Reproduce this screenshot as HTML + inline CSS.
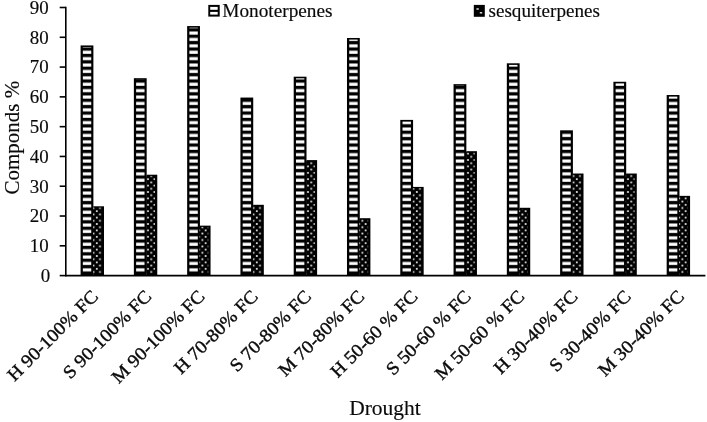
<!DOCTYPE html>
<html><head><meta charset="utf-8"><title>Chart</title>
<style>
html,body{margin:0;padding:0;background:#fff;}
body{width:707px;height:422px;overflow:hidden;}
svg{display:block;}
text{font-family:"Liberation Serif","Times New Roman",serif;fill:#0a0a0a;stroke:#0a0a0a;stroke-width:0.15px;}
text.xl{stroke-width:0.38px;}
</style></head><body>
<svg width="707" height="422" viewBox="0 0 707 422">
<defs>
<pattern id="hs" patternUnits="userSpaceOnUse" x="0" y="0" width="6.4" height="6.4">
<rect x="0" y="0" width="6.4" height="6.4" fill="#fff"/>
<rect x="0" y="2.6" width="6.4" height="3.3" fill="#000"/>
</pattern>
<pattern id="dt" patternUnits="userSpaceOnUse" x="0" y="0" width="6.4" height="6.4">
<rect x="0" y="0" width="6.4" height="6.4" fill="#000"/>
<rect x="-0.1" y="-0.85" width="1.8" height="1.7" fill="#e4e4e4"/>
<rect x="6.3" y="-0.85" width="1.8" height="1.7" fill="#e4e4e4"/>
<rect x="-0.1" y="5.55" width="1.8" height="1.7" fill="#e4e4e4"/>
<rect x="6.3" y="5.55" width="1.8" height="1.7" fill="#e4e4e4"/>
<rect x="3.1" y="2.35" width="1.8" height="1.7" fill="#e4e4e4"/>
</pattern>
</defs>
<rect width="707" height="422" fill="#fff"/>

<rect x="80.59" y="45.43" width="12.8" height="230.17" fill="#000"/>
<rect x="82.84" y="47.03" width="8.4" height="226.77" fill="url(#hs)"/>
<rect x="93.29" y="206.29" width="10.7" height="69.31" fill="#000"/>
<rect x="92.99" y="207.49" width="8.75" height="65.91" fill="url(#dt)"/>
<rect x="133.87" y="78.19" width="12.8" height="197.41" fill="#000"/>
<rect x="136.12" y="79.79" width="8.4" height="194.01" fill="url(#hs)"/>
<rect x="146.57" y="174.71" width="10.7" height="100.89" fill="#000"/>
<rect x="146.27" y="175.91" width="8.75" height="97.49" fill="url(#dt)"/>
<rect x="187.15" y="26.06" width="12.8" height="249.54" fill="#000"/>
<rect x="189.40" y="27.66" width="8.4" height="246.14" fill="url(#hs)"/>
<rect x="199.85" y="225.65" width="10.7" height="49.95" fill="#000"/>
<rect x="199.55" y="226.85" width="8.75" height="46.55" fill="url(#dt)"/>
<rect x="240.43" y="97.56" width="12.8" height="178.04" fill="#000"/>
<rect x="242.68" y="99.16" width="8.4" height="174.64" fill="url(#hs)"/>
<rect x="253.13" y="204.80" width="10.7" height="70.80" fill="#000"/>
<rect x="252.83" y="206.00" width="8.75" height="67.40" fill="url(#dt)"/>
<rect x="293.71" y="76.70" width="12.8" height="198.90" fill="#000"/>
<rect x="295.96" y="78.30" width="8.4" height="195.50" fill="url(#hs)"/>
<rect x="306.41" y="160.11" width="10.7" height="115.49" fill="#000"/>
<rect x="306.11" y="161.31" width="8.75" height="112.09" fill="url(#dt)"/>
<rect x="346.99" y="37.98" width="12.8" height="237.62" fill="#000"/>
<rect x="349.24" y="39.58" width="8.4" height="234.22" fill="url(#hs)"/>
<rect x="359.69" y="218.20" width="10.7" height="57.40" fill="#000"/>
<rect x="359.39" y="219.40" width="8.75" height="54.00" fill="url(#dt)"/>
<rect x="400.27" y="119.90" width="12.8" height="155.70" fill="#000"/>
<rect x="402.52" y="121.50" width="8.4" height="152.30" fill="url(#hs)"/>
<rect x="412.97" y="186.92" width="10.7" height="88.68" fill="#000"/>
<rect x="412.67" y="188.12" width="8.75" height="85.28" fill="url(#dt)"/>
<rect x="453.55" y="84.15" width="12.8" height="191.45" fill="#000"/>
<rect x="455.80" y="85.75" width="8.4" height="188.05" fill="url(#hs)"/>
<rect x="466.25" y="151.18" width="10.7" height="124.42" fill="#000"/>
<rect x="465.95" y="152.38" width="8.75" height="121.02" fill="url(#dt)"/>
<rect x="506.83" y="63.30" width="12.8" height="212.30" fill="#000"/>
<rect x="509.08" y="64.90" width="8.4" height="208.90" fill="url(#hs)"/>
<rect x="519.53" y="207.78" width="10.7" height="67.83" fill="#000"/>
<rect x="519.23" y="208.97" width="8.75" height="64.43" fill="url(#dt)"/>
<rect x="560.11" y="130.32" width="12.8" height="145.28" fill="#000"/>
<rect x="562.36" y="131.92" width="8.4" height="141.88" fill="url(#hs)"/>
<rect x="572.81" y="173.52" width="10.7" height="102.08" fill="#000"/>
<rect x="572.51" y="174.72" width="8.75" height="98.68" fill="url(#dt)"/>
<rect x="613.39" y="81.77" width="12.8" height="193.83" fill="#000"/>
<rect x="615.64" y="83.37" width="8.4" height="190.43" fill="url(#hs)"/>
<rect x="626.09" y="173.52" width="10.7" height="102.08" fill="#000"/>
<rect x="625.79" y="174.72" width="8.75" height="98.68" fill="url(#dt)"/>
<rect x="666.67" y="95.02" width="12.8" height="180.58" fill="#000"/>
<rect x="668.92" y="96.62" width="8.4" height="177.18" fill="url(#hs)"/>
<rect x="679.37" y="195.86" width="10.7" height="79.74" fill="#000"/>
<rect x="679.07" y="197.06" width="8.75" height="76.34" fill="url(#dt)"/>
<g stroke="#000" stroke-width="1.6" fill="none">
<line x1="65.8" y1="6.7" x2="65.8" y2="276.40000000000003"/>
<line x1="65.8" y1="275.6" x2="705.4" y2="275.6"/>
<line x1="59.7" y1="275.60" x2="65.8" y2="275.60"/>
<line x1="59.7" y1="245.81" x2="65.8" y2="245.81"/>
<line x1="59.7" y1="216.02" x2="65.8" y2="216.02"/>
<line x1="59.7" y1="186.23" x2="65.8" y2="186.23"/>
<line x1="59.7" y1="156.44" x2="65.8" y2="156.44"/>
<line x1="59.7" y1="126.66" x2="65.8" y2="126.66"/>
<line x1="59.7" y1="96.87" x2="65.8" y2="96.87"/>
<line x1="59.7" y1="67.08" x2="65.8" y2="67.08"/>
<line x1="59.7" y1="37.29" x2="65.8" y2="37.29"/>
<line x1="59.7" y1="7.50" x2="65.8" y2="7.50"/>
</g>
<text x="50.2" y="282.00" font-size="18" text-anchor="end" textLength="9.45" lengthAdjust="spacingAndGlyphs">0</text>
<text x="48.6" y="252.21" font-size="18" text-anchor="end" textLength="18.9" lengthAdjust="spacingAndGlyphs">10</text>
<text x="48.6" y="222.42" font-size="18" text-anchor="end" textLength="18.9" lengthAdjust="spacingAndGlyphs">20</text>
<text x="48.6" y="192.63" font-size="18" text-anchor="end" textLength="18.9" lengthAdjust="spacingAndGlyphs">30</text>
<text x="48.6" y="162.84" font-size="18" text-anchor="end" textLength="18.9" lengthAdjust="spacingAndGlyphs">40</text>
<text x="48.6" y="133.06" font-size="18" text-anchor="end" textLength="18.9" lengthAdjust="spacingAndGlyphs">50</text>
<text x="48.6" y="103.27" font-size="18" text-anchor="end" textLength="18.9" lengthAdjust="spacingAndGlyphs">60</text>
<text x="48.6" y="73.48" font-size="18" text-anchor="end" textLength="18.9" lengthAdjust="spacingAndGlyphs">70</text>
<text x="48.6" y="43.69" font-size="18" text-anchor="end" textLength="18.9" lengthAdjust="spacingAndGlyphs">80</text>
<text x="48.6" y="13.90" font-size="18" text-anchor="end" textLength="18.9" lengthAdjust="spacingAndGlyphs">90</text>
<text transform="translate(18.7,137.7) rotate(-90)" font-size="21" text-anchor="middle">Componds %</text>
<text x="385" y="415.4" font-size="21.5" text-anchor="middle">Drought</text>
<text class="xl" transform="translate(99.14,297.40) rotate(-45) scale(1.07,1)" font-size="18.3" text-anchor="end">H 90-100% FC</text>
<text class="xl" transform="translate(152.42,297.40) rotate(-45) scale(1.07,1)" font-size="18.3" text-anchor="end">S 90-100% FC</text>
<text class="xl" transform="translate(205.70,297.40) rotate(-45) scale(1.07,1)" font-size="18.3" text-anchor="end">M 90-100% FC</text>
<text class="xl" transform="translate(258.98,297.40) rotate(-45) scale(1.07,1)" font-size="18.3" text-anchor="end">H 70-80% FC</text>
<text class="xl" transform="translate(312.26,297.40) rotate(-45) scale(1.07,1)" font-size="18.3" text-anchor="end">S 70-80% FC</text>
<text class="xl" transform="translate(365.54,297.40) rotate(-45) scale(1.07,1)" font-size="18.3" text-anchor="end">M 70-80% FC</text>
<text class="xl" transform="translate(418.82,297.40) rotate(-45) scale(1.07,1)" font-size="18.3" text-anchor="end">H 50-60 % FC</text>
<text class="xl" transform="translate(472.10,297.40) rotate(-45) scale(1.07,1)" font-size="18.3" text-anchor="end">S 50-60 % FC</text>
<text class="xl" transform="translate(525.38,297.40) rotate(-45) scale(1.07,1)" font-size="18.3" text-anchor="end">M 50-60 % FC</text>
<text class="xl" transform="translate(578.66,297.40) rotate(-45) scale(1.07,1)" font-size="18.3" text-anchor="end">H 30-40% FC</text>
<text class="xl" transform="translate(631.94,297.40) rotate(-45) scale(1.07,1)" font-size="18.3" text-anchor="end">S 30-40% FC</text>
<text class="xl" transform="translate(685.22,297.40) rotate(-45) scale(1.07,1)" font-size="18.3" text-anchor="end">M 30-40% FC</text>
<rect x="208.3" y="4.9" width="11.4" height="11.7" fill="#000"/><rect x="210.2" y="6.9" width="7.5" height="2.9" fill="#fff"/><rect x="210.2" y="11.9" width="7.5" height="2.7" fill="#fff"/>
<text x="222.3" y="16.9" font-size="18.2" textLength="110.2" lengthAdjust="spacingAndGlyphs">Monoterpenes</text>
<rect x="473.8" y="4.9" width="11" height="11.9" fill="#000"/><rect x="476.4" y="8.3" width="2.4" height="1.4" fill="#e8e8e8"/><rect x="479.8" y="12.1" width="2.4" height="1.4" fill="#e8e8e8"/>
<text x="488.5" y="16.9" font-size="18.2" textLength="111.5" lengthAdjust="spacingAndGlyphs">sesquiterpenes</text>
</svg></body></html>
